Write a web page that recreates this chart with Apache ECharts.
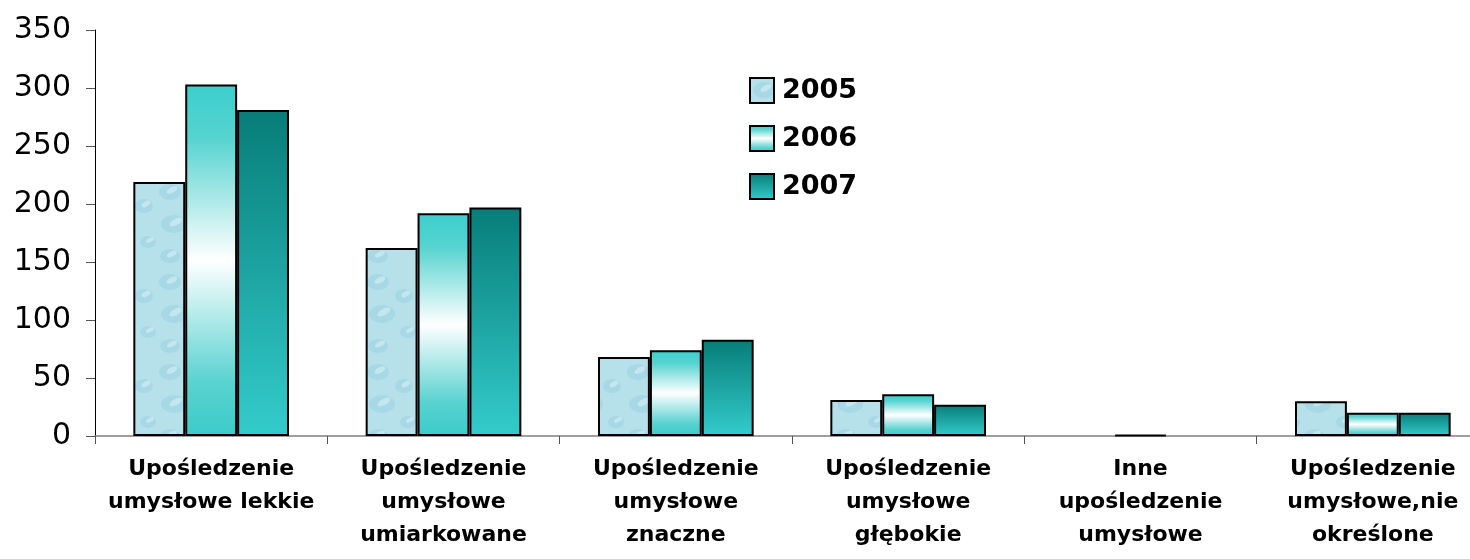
<!DOCTYPE html>
<html>
<head>
<meta charset="utf-8">
<script src="https://cdn.jsdelivr.net/npm/echarts@6/dist/echarts.min.js"></script>
<style>
  html, body { margin: 0; padding: 0; background: #fff; overflow: hidden; }
  #main { width: 1490px; height: 559px; }
</style>
</head>
<body>
<div id="main"></div>
<script>
// dane z wykresu
var categories = [
  'Upośledzenie\numysłowe lekkie',
  'Upośledzenie\numysłowe\numiarkowane',
  'Upośledzenie\numysłowe\nznaczne',
  'Upośledzenie\numysłowe\ngłębokie',
  'Inne\nupośledzenie\numysłowe',
  'Upośledzenie\numysłowe,nie\nokreślone'
];
var years = ['2005', '2006', '2007'];
var values2005 = [219, 162, 68, 31, null, 30];
var values2006 = [303, 192, 74, 36, 1, 20];
var values2007 = [281, 197, 83, 27, null, 20];
var yTicks = [0, 50, 100, 150, 200, 250, 300, 350];

var chart = echarts.init(document.getElementById('main'));

// tekstura "kropelek" dla 2005 (delikatna)
function dropsPattern() {
  var c = document.createElement('canvas');
  c.width = 52; c.height = 90;
  var ctx = c.getContext('2d');
  ctx.fillStyle = '#b6e1eb';
  ctx.fillRect(0, 0, 52, 90);
  var drops = [[14, 12, 11, 8], [40, 26, 9, 7], [18, 44, 13, 9], [44, 62, 8, 6], [14, 76, 10, 7]];
  drops.forEach(function (d) {
    ctx.beginPath();
    ctx.ellipse(d[0], d[1], d[2], d[3], 0, 0, Math.PI * 2);
    ctx.fillStyle = 'rgba(140,200,218,0.35)';
    ctx.fill();
    ctx.beginPath();
    ctx.ellipse(d[0] + 2, d[1] - 2, d[2] * 0.55, d[3] * 0.35, -0.5, 0, Math.PI * 2);
    ctx.fillStyle = 'rgba(225,245,249,0.5)';
    ctx.fill();
  });
  return { image: c, repeat: 'repeat' };
}

var fill2005 = dropsPattern();
var fill2006 = new echarts.graphic.LinearGradient(0, 0, 0, 1, [
  { offset: 0, color: '#3ccfcc' },
  { offset: 0.15, color: '#55d3d0' },
  { offset: 0.5, color: '#ffffff' },
  { offset: 0.85, color: '#58d2d0' },
  { offset: 1, color: '#3ccbc9' }
]);
var fill2007 = new echarts.graphic.LinearGradient(0, 0, 0, 1, [
  { offset: 0, color: '#077d79' },
  { offset: 1, color: '#33cccb' }
]);

function bar(name, data, fill) {
  return {
    name: name,
    type: 'bar',
    data: data,
    barGap: '0%',
    barCategoryGap: '33%',
    itemStyle: { color: fill, borderColor: '#000', borderWidth: 2 }
  };
}

chart.setOption({
  animation: false,
  textStyle: { fontFamily: 'DejaVu Sans' },
  grid: { left: 95, right: 1, top: 30, bottom: 123 },
  legend: {
    data: years,
    orient: 'vertical',
    left: 744,
    top: 72,
    itemWidth: 24,
    itemHeight: 25,
    itemGap: 21,
    icon: 'rect',
    textStyle: { fontSize: 27, fontWeight: 'bold', color: '#000', fontFamily: 'DejaVu Sans', padding: [0, 0, 0, 3] }
  },
  xAxis: {
    type: 'category',
    data: categories,
    axisLine: { lineStyle: { color: '#808080', width: 1.5 } },
    axisTick: { show: true, length: 8, lineStyle: { color: '#555' } },
    axisLabel: {
      interval: 0,
      margin: 17,
      fontSize: 22,
      fontWeight: 'bold',
      lineHeight: 33,
      color: '#000',
      fontFamily: 'DejaVu Sans'
    }
  },
  yAxis: {
    type: 'value',
    min: yTicks[0],
    max: yTicks[yTicks.length - 1],
    interval: 50,
    splitLine: { show: false },
    axisLine: { show: true, lineStyle: { color: '#000', width: 1 } },
    axisTick: { show: true, length: 9, lineStyle: { color: '#555' } },
    axisLabel: { fontSize: 30, color: '#000', margin: 24, fontFamily: 'DejaVu Sans' }
  },
  series: [
    bar(years[0], values2005, fill2005),
    bar(years[1], values2006, fill2006),
    bar(years[2], values2007, fill2007)
  ]
});
</script>
</body>
</html>
